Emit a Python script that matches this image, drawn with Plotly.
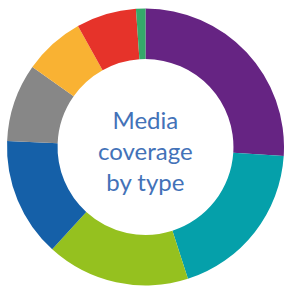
import plotly.graph_objects as go

categories = ["Type A", "Type B", "Type C", "Type D", "Type E", "Type F", "Type G", "Type H"]
values = [26, 19, 16.7, 13.9, 9.1, 7.1, 7.0, 1.1]
colors = ["#662483", "#05A0AA", "#95C11F", "#1560A8", "#878787", "#F9B233", "#E6332A", "#35A96A"]
center_lines = ["Media", "coverage", "by type"]

W, H = 284, 286
cx, cy, r = 145.5, 147.0, 138.5

fig = go.Figure(go.Pie(
    labels=categories,
    values=values,
    marker=dict(colors=colors, line=dict(width=0)),
    hole=0.635,
    sort=False,
    direction="clockwise",
    rotation=0,
    textinfo="none",
    hoverinfo="label+value",
    domain=dict(x=[(cx - r) / W, (cx + r) / W], y=[(H - cy - r) / H, (H - cy + r) / H]),
    showlegend=False,
))

fig.add_annotation(
    text="<br>".join(center_lines), x=cx / W, y=(H - 150) / H, xref="paper", yref="paper",
    showarrow=False, xanchor="center", yanchor="middle", borderpad=0, align="center",
    font=dict(family="Lato", size=24, color="#4372B8"),
)

fig.update_layout(
    width=W, height=H,
    margin=dict(l=0, r=0, t=0, b=0),
    paper_bgcolor="white", plot_bgcolor="white",
)
fig.write_html(
    "out.html",
    config={"displayModeBar": False},
    post_script="document.body.style.margin='0';document.body.style.overflow='hidden';",
)
